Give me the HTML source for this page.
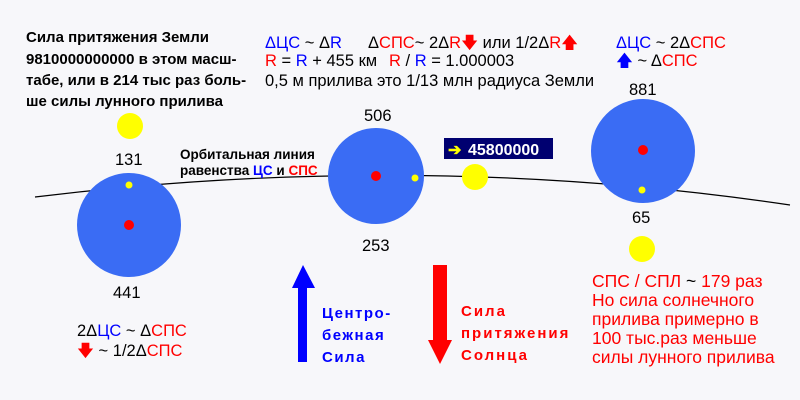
<!DOCTYPE html>
<html><head><meta charset="utf-8"><style>
html,body{margin:0;padding:0;background:#f7f7fa}
svg{display:block;font-family:"Liberation Sans",sans-serif;font-size:16.5px}
.b{font-weight:bold}
</style></head><body>
<svg width="800" height="400" viewBox="0 0 800 400">
<rect width="800" height="400" fill="#f7f7fa"/>
<path d="M35,197 Q420,150 790,205" fill="none" stroke="#000" stroke-width="1.2"/>
<circle cx="129" cy="225" r="52" fill="#3a6cf4"/>
<circle cx="129" cy="225" r="5" fill="#f00"/>
<circle cx="129" cy="185" r="3.5" fill="#ff0"/>
<circle cx="376" cy="176" r="48" fill="#3a6cf4"/>
<circle cx="376" cy="176" r="5" fill="#f00"/>
<circle cx="415" cy="178" r="3.5" fill="#ff0"/>
<circle cx="643" cy="151" r="52" fill="#3a6cf4"/>
<circle cx="643" cy="150" r="5" fill="#f00"/>
<circle cx="642" cy="190" r="3.5" fill="#ff0"/>
<circle cx="130" cy="126" r="13" fill="#ff0"/>
<circle cx="475" cy="177" r="13" fill="#ff0"/>
<circle cx="642" cy="249" r="13" fill="#ff0"/>
<rect x="444" y="138" width="109" height="21" fill="#000070"/>
<g font-size="16">
<text x="448" y="155" fill="#ff0" class="b">➔</text>
<text x="468" y="155" fill="#fff" class="b">45800000</text>
</g>
<g class="b" fill="#000" font-size="15">
<text x="26" y="42">Сила притяжения Земли</text>
<text x="26" y="64">9810000000000 в этом  масш-</text>
<text x="26" y="85">табе, или в 214 тыс раз боль-</text>
<text x="26" y="106">ше силы лунного прилива</text>
</g>
<g fill="#000">
<text x="265" y="48"><tspan fill="#00f">ΔЦС</tspan> ~ Δ<tspan fill="#00f">R</tspan></text>
<text x="368" y="48">Δ<tspan fill="#f00">СПС</tspan>~ 2Δ<tspan fill="#f00">R🡇</tspan> или 1/2Δ<tspan fill="#f00">R🡅</tspan></text>
<text x="265" y="66"><tspan fill="#f00">R</tspan> = <tspan fill="#00f">R</tspan> + 455 км</text>
<text x="389" y="66"><tspan fill="#f00">R</tspan> / <tspan fill="#00f">R</tspan> = 1.000003</text>
<text x="265" y="86">0,5 м прилива это 1/13 млн радиуса Земли</text>
<text x="616" y="48"><tspan fill="#00f">ΔЦС</tspan> ~ 2Δ<tspan fill="#f00">СПС</tspan></text>
<text x="616" y="66"><tspan fill="#00f">🡅</tspan> ~ Δ<tspan fill="#f00">СПС</tspan></text>
<text x="115" y="165">131</text>
<text x="113" y="298">441</text>
<text x="364" y="121">506</text>
<text x="362" y="251">253</text>
<text x="629" y="95">881</text>
<text x="632" y="223">65</text>
<text x="77" y="336">2Δ<tspan fill="#00f">ЦС</tspan> ~ Δ<tspan fill="#f00">СПС</tspan></text>
<text x="77" y="356"><tspan fill="#f00">🡇</tspan> ~ 1/2Δ<tspan fill="#f00">СПС</tspan></text>
</g>
<g class="b" fill="#000" font-size="13.5">
<text x="180" y="159">Орбитальная линия</text>
<text x="180" y="175">равенства <tspan fill="#00f">ЦС</tspan> и <tspan fill="#f00">СПС</tspan></text>
</g>
<polygon points="298,362 307,362 307,288 315,288 303,265 292,288 298,288" fill="#00f"/>
<polygon points="433,265 447,265 447,340 452,340 440,364 428,340 433,340" fill="#f00"/>
<g class="b" fill="#00f" font-size="15" letter-spacing="1.5">
<text x="322" y="318">Центро-</text>
<text x="322" y="340">бежная</text>
<text x="322" y="362">Сила</text>
</g>
<g class="b" fill="#f00" font-size="15" letter-spacing="2">
<text x="461" y="316">Сила</text>
<text x="461" y="338">притяжения</text>
<text x="461" y="360">Солнца</text>
</g>
<g fill="#f00" font-size="17.5">
<text x="592" y="287">СПС / СПЛ <tspan fill="#000">~</tspan> 179 раз</text>
<text x="592" y="306">Но сила солнечного</text>
<text x="592" y="325">прилива примерно в</text>
<text x="592" y="344">100 тыс.раз меньше</text>
<text x="592" y="363">силы лунного прилива</text>
</g>
</svg>
</body></html>
